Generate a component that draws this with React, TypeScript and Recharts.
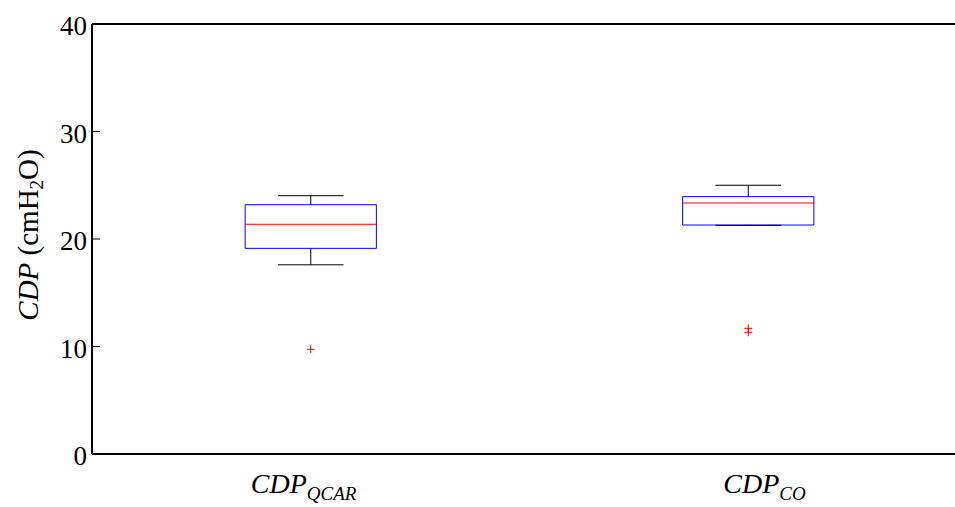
import React from 'react';
import {
  ComposedChart,
  XAxis,
  YAxis,
  Scatter,
  ReferenceArea,
  ReferenceLine,
} from 'recharts';

// ---- data ----
const categories = ['QCAR', 'CO'];
const positions = [1, 2];
const whiskerLow = [17.6, 21.27];
const q1 = [19.13, 21.3];
const median = [21.37, 23.35];
const q3 = [23.19, 23.94];
const whiskerHigh = [24.03, 25.0];
const outliers = [[9.74], [11.69, 11.32]];
const yTicks = [0, 10, 20, 30, 40];

const outlierData = outliers.flatMap((vals, i) =>
  vals.map((v) => ({ x: positions[i], y: v }))
);

const BOX_HALF = 0.15;
const CAP_HALF = 0.075;
const FONT = '"Liberation Serif", "Times New Roman", serif';

const YTick = (props: any) => {
  const { x, y, payload } = props;
  const axisX = x + 5;
  return (
    <g>
      <line x1={axisX} y1={y} x2={axisX + 8} y2={y} stroke="#000" strokeWidth={1} />
      <text x={x} y={y} dy={11} textAnchor="end" fontFamily={FONT} fontSize={27} fill="#000">
        {payload.value}
      </text>
    </g>
  );
};

const labelOffsets = [-60, -25];

const XTick = (props: any) => {
  const { x, payload, index } = props;
  const sub = categories[index] ?? categories[payload.value - 1];
  return (
    <text
      x={x + (labelOffsets[index] ?? 0)}
      y={493}
      textAnchor="start"
      fontFamily={FONT}
      fontStyle="italic"
      fontSize={28}
      fill="#000"
    >
      CDP
      <tspan fontSize={19} dy={7}>{sub}</tspan>
    </text>
  );
};

const YLabel = () => (
  <text
    transform="translate(38,235) rotate(-90)"
    textAnchor="middle"
    fontFamily={FONT}
    fontSize={29}
    fill="#000"
  >
    <tspan fontStyle="italic">CDP</tspan>
    <tspan> (cmH</tspan>
    <tspan fontSize={19} dy={5}>2</tspan>
    <tspan dy={-5}>O)</tspan>
  </text>
);

const Plus = (props: any) => {
  const { cx, cy } = props;
  return (
    <g>
      <line x1={cx - 4} y1={cy} x2={cx + 4} y2={cy} stroke="#ff0000" strokeWidth={1} />
      <line x1={cx} y1={cy - 4} x2={cx} y2={cy + 4} stroke="#ff0000" strokeWidth={1} />
    </g>
  );
};

export default function App() {
  return (
    <div
      style={{
        position: 'absolute',
        left: 0,
        top: 0,
        width: 955,
        height: 507,
        overflow: 'hidden',
        background: '#fff',
      }}
    >
      <ComposedChart
        width={967}
        height={507}
        margin={{ top: 24, right: 0, bottom: 0, left: 0 }}
      >
        <XAxis
          type="number"
          dataKey="x"
          domain={[0.5, 2.5]}
          ticks={positions}
          allowDataOverflow
          height={53}
          axisLine={{ stroke: '#000', strokeWidth: 2 }}
          tickLine={false}
          tick={<XTick />}
          interval={0}
        />
        <YAxis
          type="number"
          dataKey="y"
          domain={[0, 40]}
          ticks={yTicks}
          width={92}
          axisLine={{ stroke: '#000', strokeWidth: 2 }}
          tickLine={false}
          tickSize={0}
          tickMargin={5}
          tick={<YTick />}
          label={<YLabel />}
        />
        <ReferenceLine y={40} stroke="#000" strokeWidth={2} />
        {positions.map((p, i) => (
          <React.Fragment key={i}>
            <ReferenceLine
              segment={[{ x: p, y: q3[i] }, { x: p, y: whiskerHigh[i] }]}
              stroke="#000"
              strokeWidth={1}
            />
            <ReferenceLine
              segment={[{ x: p, y: whiskerLow[i] }, { x: p, y: q1[i] }]}
              stroke="#000"
              strokeWidth={1}
            />
            <ReferenceLine
              segment={[{ x: p - CAP_HALF, y: whiskerHigh[i] }, { x: p + CAP_HALF, y: whiskerHigh[i] }]}
              stroke="#000"
              strokeWidth={1}
            />
            <ReferenceLine
              segment={[{ x: p - CAP_HALF, y: whiskerLow[i] }, { x: p + CAP_HALF, y: whiskerLow[i] }]}
              stroke="#000"
              strokeWidth={1}
            />
            <ReferenceArea
              x1={p - BOX_HALF}
              x2={p + BOX_HALF}
              y1={q1[i]}
              y2={q3[i]}
              fill="none"
              fillOpacity={0}
              stroke="#0000ff"
              strokeWidth={1}
            />
            <ReferenceLine
              segment={[{ x: p - BOX_HALF, y: median[i] }, { x: p + BOX_HALF, y: median[i] }]}
              stroke="#ff0000"
              strokeWidth={1}
            />
          </React.Fragment>
        ))}
        <Scatter data={outlierData} dataKey="y" shape={<Plus />} isAnimationActive={false} />
      </ComposedChart>
    </div>
  );
}
